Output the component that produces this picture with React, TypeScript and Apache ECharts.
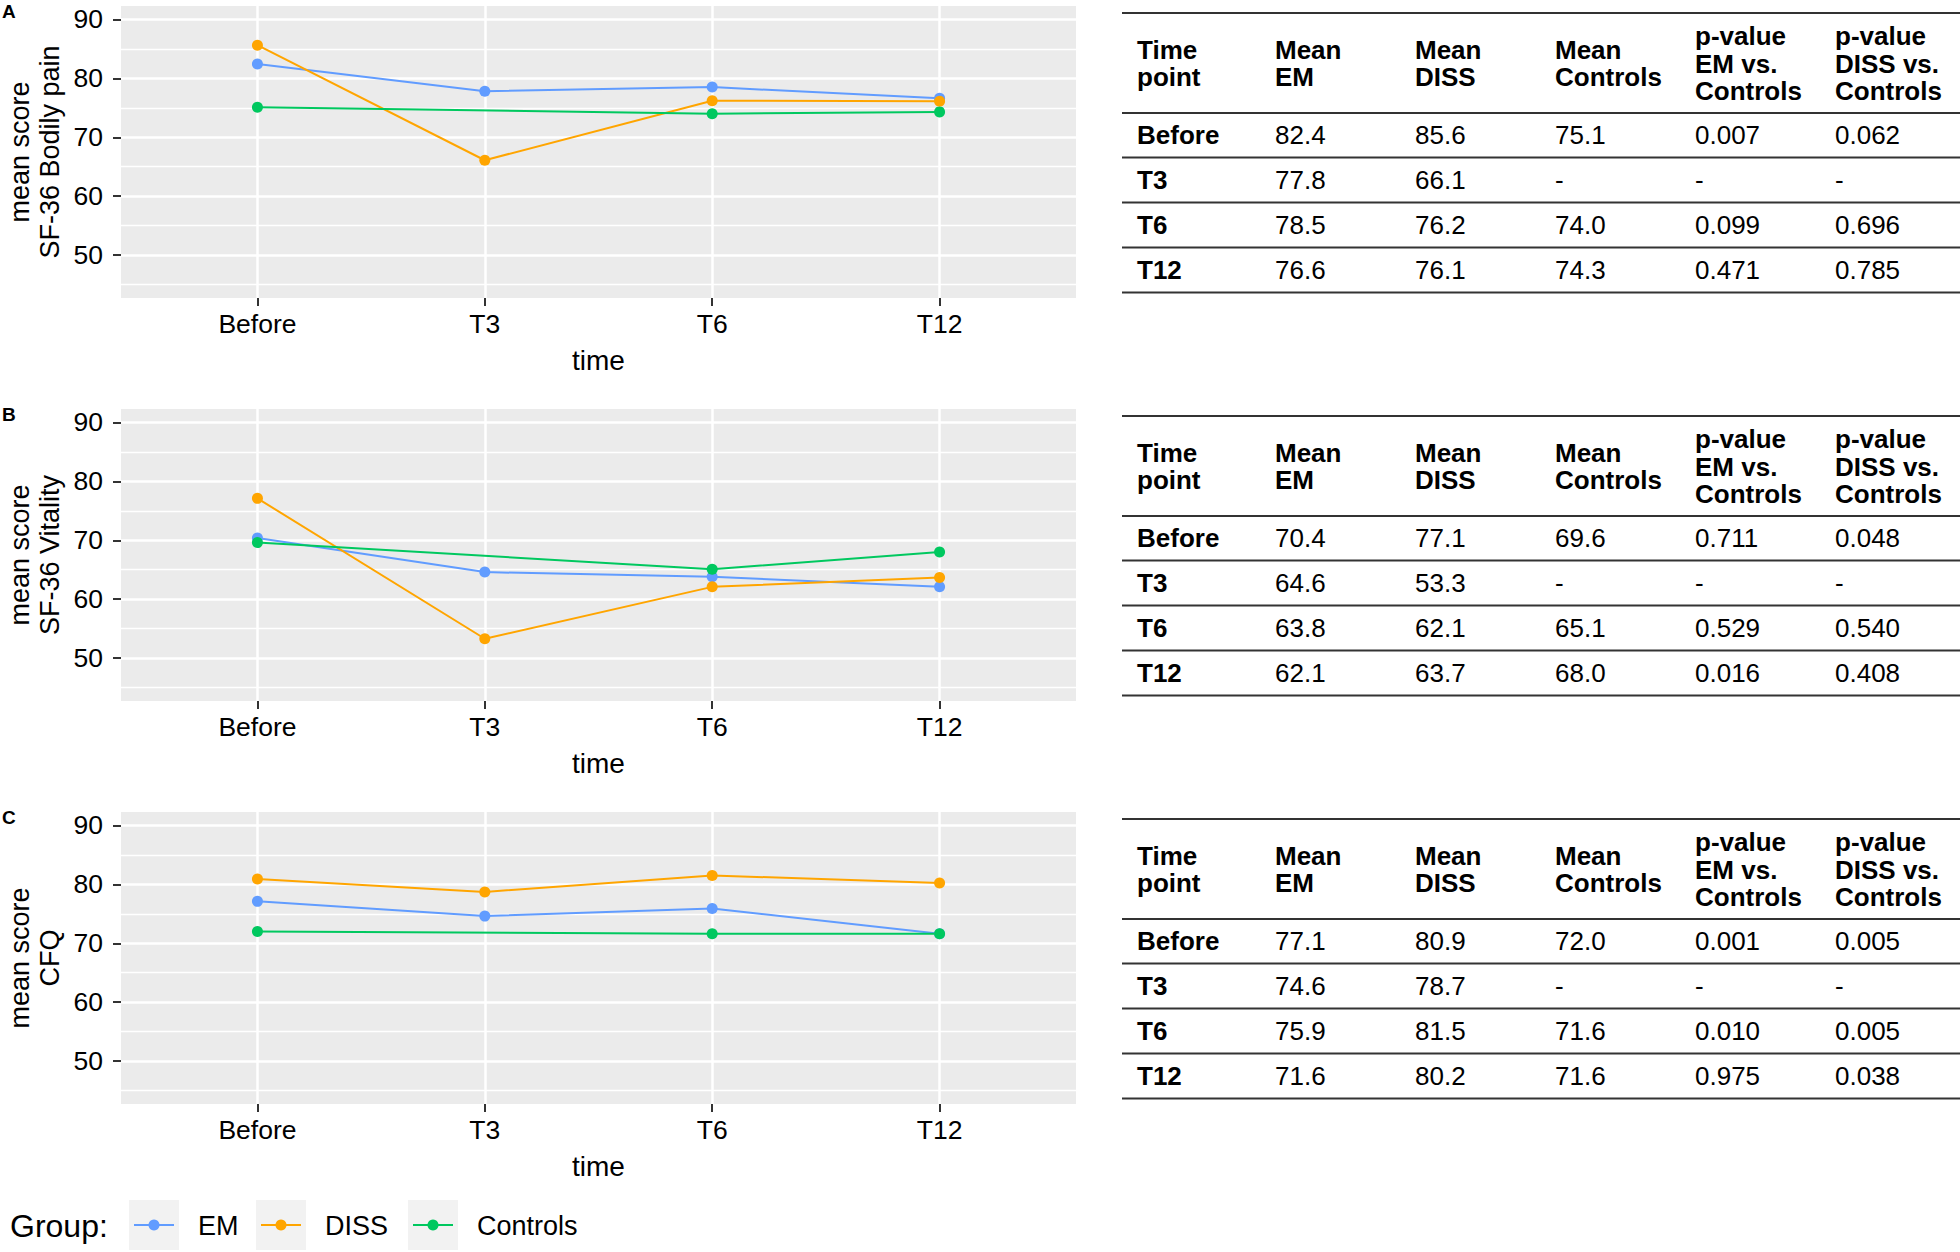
import React, { useEffect, useRef } from 'react';
import * as echarts from 'echarts';

// ---------- data ----------
const timePoints = ['Before', 'T3', 'T6', 'T12'];
const groups = ['EM', 'DISS', 'Controls'];
const groupColors = ['#619CFF', '#FFA500', '#00C85F'];

const panelLetters = ['A', 'B', 'C'];
const panelMeasures = ['SF-36 Bodily pain', 'SF-36 Vitality', 'CFQ'];

const painEM = [82.4, 77.8, 78.5, 76.6];
const painDISS = [85.6, 66.1, 76.2, 76.1];
const painControls = [75.1, null, 74.0, 74.3];
const painPEM = ['0.007', '-', '0.099', '0.471'];
const painPDISS = ['0.062', '-', '0.696', '0.785'];

const vitalityEM = [70.4, 64.6, 63.8, 62.1];
const vitalityDISS = [77.1, 53.3, 62.1, 63.7];
const vitalityControls = [69.6, null, 65.1, 68.0];
const vitalityPEM = ['0.711', '-', '0.529', '0.016'];
const vitalityPDISS = ['0.048', '-', '0.540', '0.408'];

const cfqEM = [77.1, 74.6, 75.9, 71.6];
const cfqDISS = [80.9, 78.7, 81.5, 80.2];
const cfqControls = [72.0, null, 71.6, 71.6];
const cfqPEM = ['0.001', '-', '0.010', '0.975'];
const cfqPDISS = ['0.005', '-', '0.005', '0.038'];

const yMajorTicks = [50, 60, 70, 80, 90];
const yMinorTicks = [45, 55, 65, 75, 85];
const yLimits = [45, 90];

const tableHeaders = [
  'Time\npoint',
  'Mean\nEM',
  'Mean\nDISS',
  'Mean\nControls',
  'p-value\nEM vs.\nControls',
  'p-value\nDISS vs.\nControls',
];

const panels = [
  { means: [painEM, painDISS, painControls], pEM: painPEM, pDISS: painPDISS },
  { means: [vitalityEM, vitalityDISS, vitalityControls], pEM: vitalityPEM, pDISS: vitalityPDISS },
  { means: [cfqEM, cfqDISS, cfqControls], pEM: cfqPEM, pDISS: cfqPDISS },
];

// ---------- layout ----------
const FONT = '"Liberation Sans", Arial, sans-serif';
const W = 1960;
const H = 1252;
const PANEL_LEFT = 121;
const PANEL_W = 955;
const PANEL_H = 292;
const PANEL_STEP = 403;
const PANEL_TOP0 = 6;
const TABLE_TOP0 = 13;
const TABLE_X0 = 1122;
const TABLE_X1 = 1960;
const COL_X = [1137, 1275, 1415, 1555, 1695, 1835];
const TABLE_LINES = [0, 100, 144.5, 189.5, 234.5, 279.5];
const HEADER_CY = 50.5;
const ROW_CY = [122, 167, 212, 257];

function buildOption() {
  const expandY = (yLimits[1] - yLimits[0]) * 0.05;
  const yMin = yLimits[0] - expandY;
  const yMax = yLimits[1] + expandY;
  const xIdx = timePoints.map((_, i) => i);

  const grids: any[] = [];
  const xAxes: any[] = [];
  const yAxes: any[] = [];
  const series: any[] = [];
  const graphics: any[] = [];

  panels.forEach((panel, p) => {
    const top = PANEL_TOP0 + p * PANEL_STEP;
    grids.push({
      left: PANEL_LEFT,
      top,
      width: PANEL_W,
      height: PANEL_H,
      show: true,
      backgroundColor: '#EBEBEB',
      borderWidth: 0,
    });
    xAxes.push({
      type: 'value',
      gridIndex: p,
      position: 'bottom',
      min: -0.6,
      max: timePoints.length - 1 + 0.6,
      axisLine: { show: false, onZero: false },
      axisTick: {
        show: true,
        customValues: xIdx,
        length: 8,
        lineStyle: { color: '#333333', width: 2 },
      },
      axisLabel: {
        customValues: xIdx,
        formatter: (v: number) => timePoints[Math.round(v)] ?? '',
        fontSize: 26.5,
        fontFamily: FONT,
        color: '#000',
        margin: 12,
      },
      splitLine: { show: true, lineStyle: { color: '#FFFFFF', width: 2.5 } },
      name: 'time',
      nameLocation: 'middle',
      nameGap: 48,
      nameTextStyle: { fontSize: 28, fontFamily: FONT, color: '#000' },
    });
    // major y axis
    yAxes.push({
      type: 'value',
      gridIndex: p,
      position: 'left',
      min: yMin,
      max: yMax,
      axisLine: { show: false, onZero: false },
      axisTick: {
        show: true,
        customValues: yMajorTicks,
        length: 8,
        lineStyle: { color: '#333333', width: 2 },
      },
      axisLabel: {
        customValues: yMajorTicks,
        fontSize: 26.5,
        fontFamily: FONT,
        color: '#000',
        margin: 18,
      },
      splitLine: { show: true, lineStyle: { color: '#FFFFFF', width: 2.5 } },
      name: 'mean score\n' + panelMeasures[p],
      nameLocation: 'middle',
      nameRotate: 90,
      nameGap: 56,
      nameTextStyle: { fontSize: 27, fontFamily: FONT, color: '#000', lineHeight: 30 },
    });
    // minor y axis (grid lines only)
    yAxes.push({
      type: 'value',
      gridIndex: p,
      position: 'left',
      min: yMin,
      max: yMax,
      axisLine: { show: false, onZero: false },
      axisTick: { show: false, customValues: yMinorTicks },
      axisLabel: { show: false, customValues: yMinorTicks },
      splitLine: { show: true, lineStyle: { color: '#FFFFFF', width: 1.3 } },
    });

    panel.means.forEach((vals, g) => {
      const data = vals
        .map((v, i) => (v == null ? null : [i, v]))
        .filter((d) => d != null);
      series.push({
        type: 'line',
        name: groups[g],
        xAxisIndex: p,
        yAxisIndex: p * 2,
        data,
        symbol: 'circle',
        symbolSize: 11,
        showSymbol: true,
        color: groupColors[g],
        lineStyle: { color: groupColors[g], width: 2 },
        itemStyle: { color: groupColors[g] },
        emphasis: { disabled: true },
        silent: true,
      });
    });

    // panel letter
    graphics.push({
      type: 'text',
      x: 2,
      y: top + 5,
      style: {
        text: panelLetters[p],
        fontSize: 19,
        fontWeight: 'bold',
        fontFamily: FONT,
        fill: '#000',
        verticalAlign: 'middle',
      },
    });

    // table
    const tTop = TABLE_TOP0 + p * PANEL_STEP;
    TABLE_LINES.forEach((dy) => {
      graphics.push({
        type: 'line',
        shape: { x1: TABLE_X0, y1: tTop + dy, x2: TABLE_X1, y2: tTop + dy },
        style: { stroke: '#333333', lineWidth: 2 },
      });
    });
    tableHeaders.forEach((h, c) => {
      graphics.push({
        type: 'text',
        x: COL_X[c],
        y: tTop + HEADER_CY,
        style: {
          text: h,
          fontSize: 26,
          fontWeight: 'bold',
          fontFamily: FONT,
          fill: '#000',
          verticalAlign: 'middle',
          align: 'left',
          lineHeight: 27.5,
        },
      });
    });
    timePoints.forEach((tp, r) => {
      const cells = [
        tp,
        ...panel.means.map((vals) => (vals[r] == null ? '-' : (vals[r] as number).toFixed(1))),
        panel.pEM[r],
        panel.pDISS[r],
      ];
      cells.forEach((txt, c) => {
        graphics.push({
          type: 'text',
          x: COL_X[c],
          y: tTop + ROW_CY[r],
          style: {
            text: txt,
            fontSize: 26,
            fontWeight: c === 0 ? 'bold' : 'normal',
            fontFamily: FONT,
            fill: '#000',
            verticalAlign: 'middle',
            align: 'left',
          },
        });
      });
    });
  });

  // legend
  const legendCY = 1225;
  graphics.push({
    type: 'text',
    x: 10,
    y: legendCY + 1,
    style: { text: 'Group:', fontSize: 32, fontFamily: FONT, fill: '#000', verticalAlign: 'middle' },
  });
  const keyX = [129, 256, 408];
  groups.forEach((g, i) => {
    const kx = keyX[i];
    graphics.push({
      type: 'rect',
      shape: { x: kx, y: legendCY - 25, width: 50, height: 50 },
      style: { fill: '#F2F2F2' },
    });
    graphics.push({
      type: 'line',
      shape: { x1: kx + 5, y1: legendCY, x2: kx + 45, y2: legendCY },
      style: { stroke: groupColors[i], lineWidth: 2 },
    });
    graphics.push({
      type: 'circle',
      shape: { cx: kx + 25, cy: legendCY, r: 5.5 },
      style: { fill: groupColors[i] },
    });
    graphics.push({
      type: 'text',
      x: kx + 69,
      y: legendCY + 1,
      style: { text: g, fontSize: 27, fontFamily: FONT, fill: '#000', verticalAlign: 'middle' },
    });
  });

  return {
    animation: false,
    backgroundColor: '#FFFFFF',
    grid: grids,
    xAxis: xAxes,
    yAxis: yAxes,
    series,
    graphic: graphics,
  };
}

export default function App() {
  const ref = useRef<HTMLDivElement>(null);
  useEffect(() => {
    document.body.style.margin = '0';
    document.body.style.overflow = 'hidden';
    if (!ref.current) return;
    const chart = echarts.init(ref.current, null, { renderer: 'svg' });
    chart.setOption(buildOption() as any);
    return () => {
      chart.dispose();
    };
  }, []);
  return <div ref={ref} style={{ width: W, height: H }} />;
}
